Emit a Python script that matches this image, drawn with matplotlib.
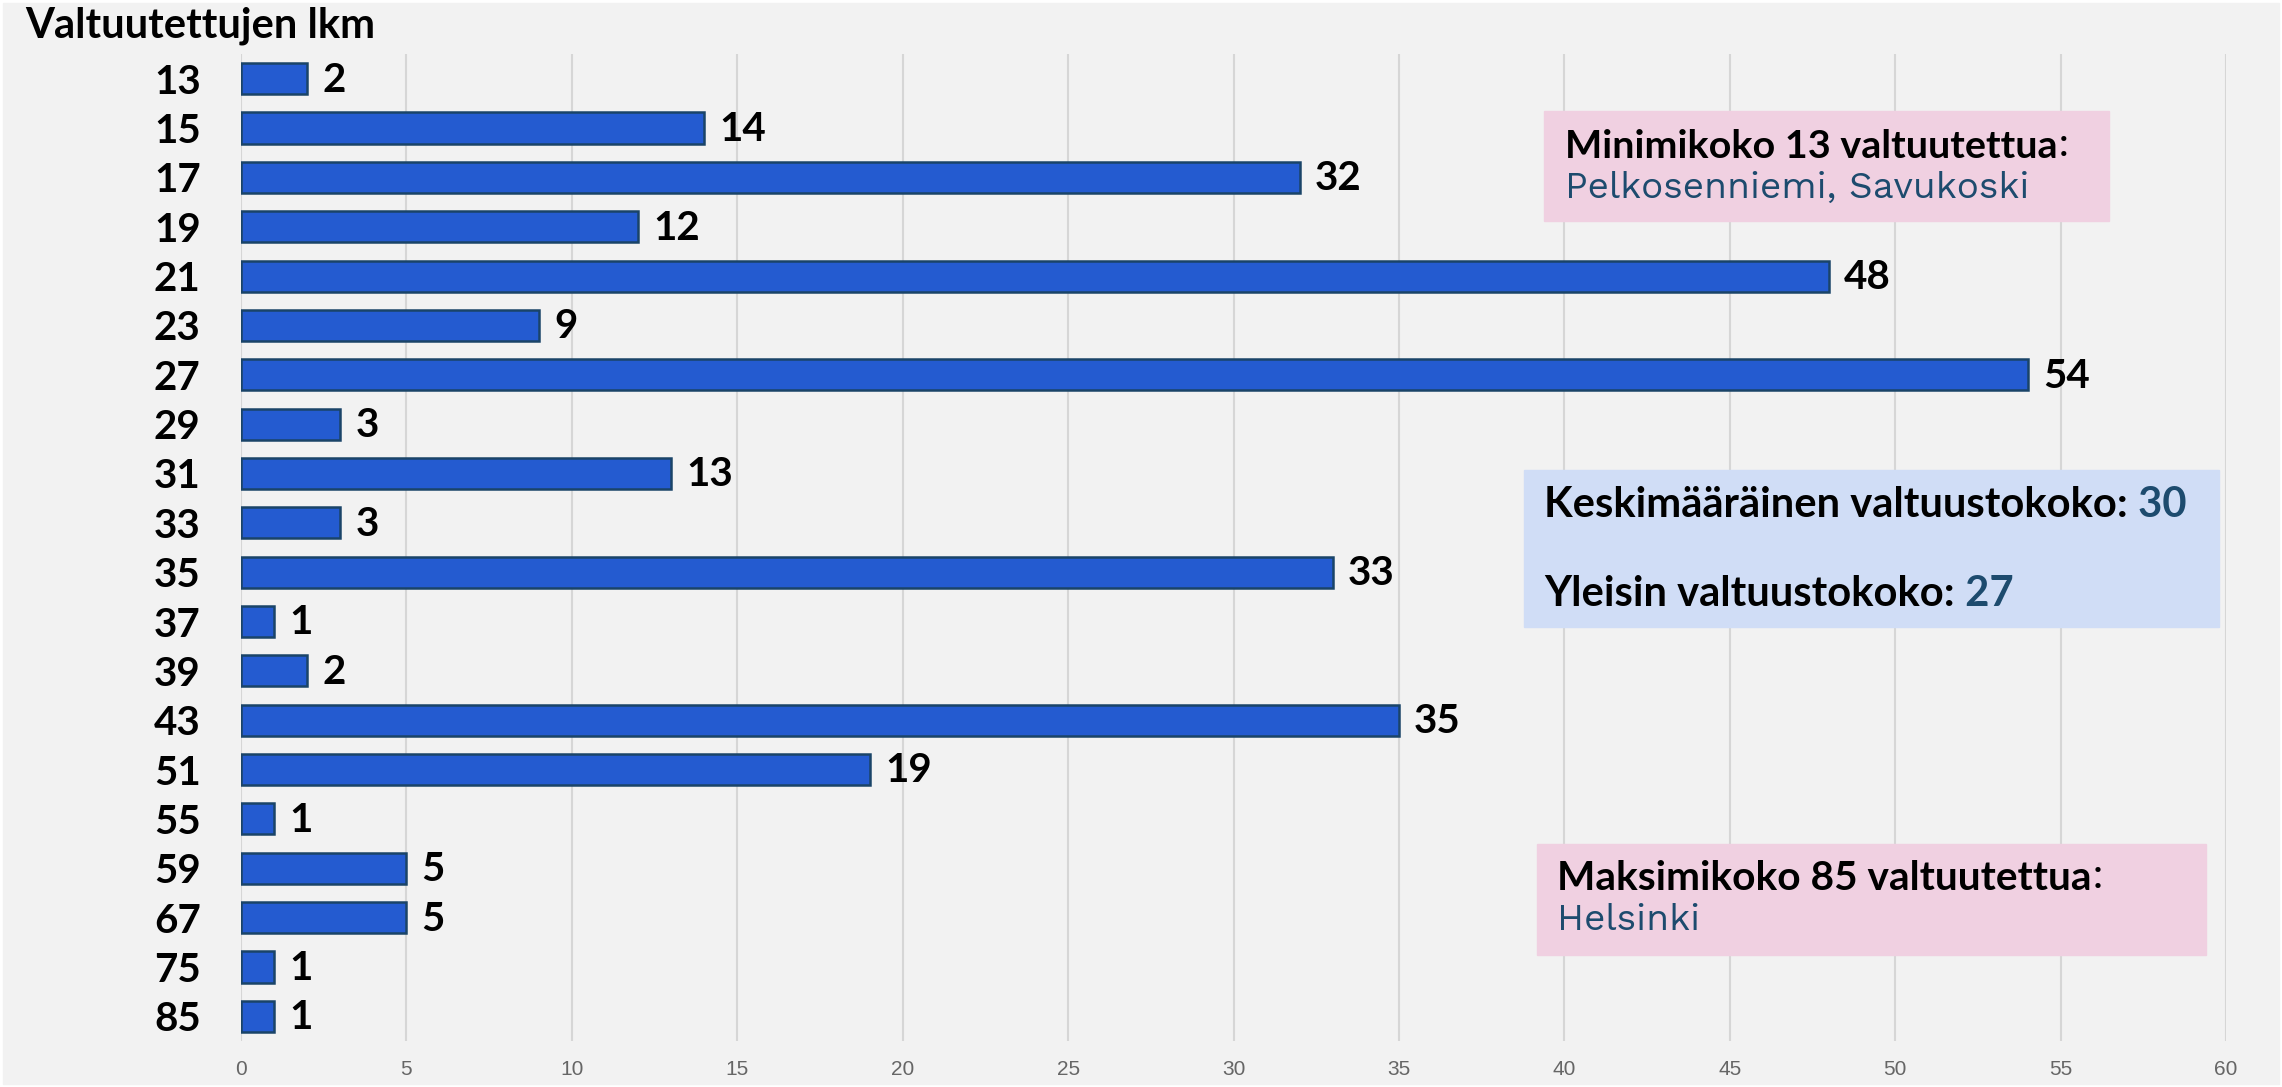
import matplotlib
matplotlib.use("Agg")
import matplotlib.pyplot as plt
from matplotlib.patches import Rectangle
from matplotlib.text import Annotation

# Council sizes (number of councillors) and how many municipalities have each size
sizes = ["13", "15", "17", "19", "21", "23", "27", "29", "31", "33",
         "35", "37", "39", "43", "51", "55", "59", "67", "75", "85"]
counts = [2, 14, 32, 12, 48, 9, 54, 3, 13, 3, 33, 1, 2, 35, 19, 1, 5, 5, 1, 1]
x_ticks = list(range(0, 61, 5))

title = "Valtuutettujen lkm"
min_head = "Minimikoko 13 valtuutettua"
min_names = "Pelkosenniemi, Savukoski"
max_head = "Maksimikoko 85 valtuutettua"
max_names = "Helsinki"
avg_label, avg_value = "Keskimääräinen valtuustokoko:", "30"
mode_label, mode_value = "Yleisin valtuustokoko:", "27"

BOLD = ["Lato", "Liberation Sans", "DejaVu Sans"]
REG = ["Work Sans", "Liberation Sans", "DejaVu Sans"]
TICKF = ["Liberation Sans", "DejaVu Sans"]
BAR = "#245bd0"
EDGE = "#1a4468"
NAVY = "#1d4b6e"
PINK = "#f0d0e1"
LBLUE = "#d0ddf6"

W, H = 2282, 1087
fig = plt.figure(figsize=(W / 100, H / 100), dpi=100)
fig.patch.set_facecolor("white")
fig.add_artist(Rectangle((3 / W, 3 / H), 1 - 6 / W, 1 - 6 / H,
                         transform=fig.transFigure, color="#f2f2f2", zorder=0))


def fx(px):
    return px / W


def fy(py):
    return 1 - py / H


ax = fig.add_axes([fx(241), fy(1041), fx(2226) - fx(241), fy(54) - fy(1041)])
ax.set_facecolor("none")

ypos = list(range(len(sizes)))
ax.barh(ypos, counts, height=0.63, color=BAR, edgecolor=EDGE, linewidth=1.8, zorder=3)
ax.set_ylim(len(sizes) - 0.5, -0.5)
ax.set_xlim(0, 60)
ax.set_yticks(ypos)
ax.set_yticklabels(sizes, family=BOLD, fontsize=29, fontweight="bold")
ax.set_xticks(x_ticks)
ax.set_xticklabels([str(t) for t in x_ticks], family=TICKF, fontsize=15, color="#666666")
ax.tick_params(axis="y", length=0, pad=29)
ax.tick_params(axis="x", length=0, pad=14)
ax.grid(axis="x", color="#d6d6d6", linewidth=1.5, zorder=0)
for s in ax.spines.values():
    s.set_visible(False)

for y, c in zip(ypos, counts):
    ax.annotate(str(c), (c, y), xytext=(11, -1), textcoords="offset points",
                ha="left", va="center", family=BOLD, fontsize=29, fontweight="bold")

ttl = fig.text(fx(25), fy(26), title, family=BOLD, fontsize=23, fontweight="bold",
               ha="left", va="center")


def box(x0, y0, x1, y1, color):
    fig.add_artist(Rectangle((fx(x0), fy(y1)), fx(x1) - fx(x0), fy(y0) - fy(y1),
                             transform=fig.transFigure, color=color, zorder=1))


def two_part(x, y, first, second, c2, w2="bold"):
    t = fig.text(fx(x), fy(y), first, family=BOLD, fontsize=26, fontweight="bold",
                 ha="left", va="center", zorder=2)
    ann = Annotation(second, xy=(1, 0), xycoords=t, ha="left", va="bottom",
                     family=BOLD if w2 == "bold" else REG, fontsize=26, fontweight=w2,
                     color=c2, annotation_clip=False, zorder=2)
    fig.add_artist(ann)
    return [t, ann]


def fit(arts, width, also=()):
    # scale font size so the text run covers the same width as in the reference
    for _ in range(3):
        r = fig.canvas.get_renderer()
        x0 = arts[0].get_window_extent(r).x0
        x1 = arts[-1].get_window_extent(r).x1
        k = width / (x1 - x0)
        for a in list(arts) + list(also):
            a.set_fontsize(a.get_fontsize() * k)


# minimum box
box(1544, 111, 2109, 221, PINK)
mn = two_part(1565, 146, min_head, ":", "black", w2="normal")
mn_names = fig.text(fx(1565), fy(188), min_names, family=REG, fontsize=27, color=NAVY,
                    ha="left", va="center", zorder=2)

# average / mode box
box(1524, 470, 2219, 627, LBLUE)
av = two_part(1544, 505, avg_label, " " + avg_value, NAVY)
mo = two_part(1544, 594, mode_label, " " + mode_value, NAVY)

# maximum box
box(1537, 844, 2206, 955, PINK)
mx = two_part(1557, 879, max_head, ":", "black", w2="normal")
mx_names = fig.text(fx(1557), fy(921), max_names, family=REG, fontsize=27, color=NAVY,
                    ha="left", va="center", zorder=2)

fig.canvas.draw()
fit([ttl], 350)
fit(mn, 505)
fit([mn_names], 465, also=[mx_names])
fit(av, 641, also=mo)
fit(mx, 547)

fig.savefig("out.png", dpi=100, facecolor=fig.get_facecolor())
